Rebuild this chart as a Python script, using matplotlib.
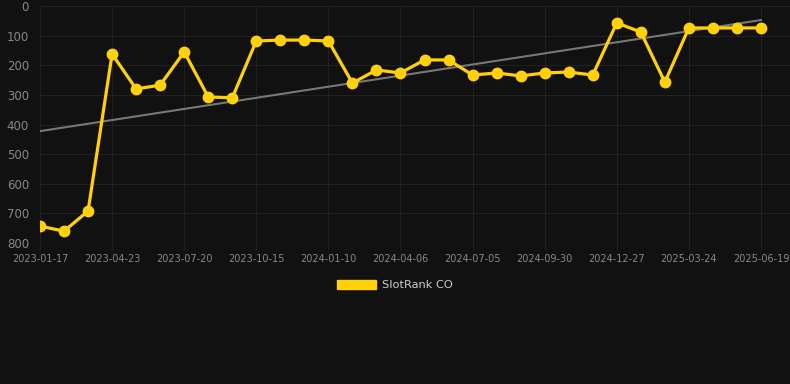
import matplotlib
matplotlib.use("Agg")
import matplotlib.pyplot as plt
import matplotlib.patches as mpatches
import numpy as np

dates = ["2023-01-17", "2023-02-18", "2023-03-22", "2023-04-23", "2023-05-22", "2023-06-20",
         "2023-07-20", "2023-08-18", "2023-09-16", "2023-10-15", "2023-11-13", "2023-12-12",
         "2024-01-10", "2024-02-08", "2024-03-08", "2024-04-06", "2024-05-06", "2024-06-05",
         "2024-07-05", "2024-08-03", "2024-09-01", "2024-09-30", "2024-10-29", "2024-11-28",
         "2024-12-27", "2025-01-25", "2025-02-23", "2025-03-24", "2025-04-22", "2025-05-21",
         "2025-06-19"]
ranks = [743, 760, 692, 162, 280, 267, 155, 307, 310, 118, 115, 115, 118, 260, 216, 226,
         182, 182, 233, 226, 236, 226, 223, 233, 57, 88, 257, 74, 74, 74, 74]
series_name = "SlotRank CO"

bg = "#111111"
fig = plt.figure(figsize=(7.9, 3.84), dpi=100, facecolor=bg)
ax = fig.add_axes([40/790, 1-243/384, 750/790, 237/384], facecolor=bg)

x = np.arange(len(dates))
y = np.array(ranks, dtype=float)
slope, intercept = np.polyfit(x, y, 1)
ax.plot(x, slope*x + intercept, color="#777777", lw=1.5, zorder=2)
ax.plot(x, y, color="#FFD10A", lw=2.3, marker="o", ms=7.5, zorder=3)

ax.set_ylim(800, 0)
ax.set_yticks(range(0, 801, 100))
ax.set_xlim(0, 30 + 29/24)
ticks = list(range(0, len(dates), 3))
ax.set_xticks(ticks)
ax.set_xticklabels([dates[i] for i in ticks])
ax.grid(True, color="#202020", lw=0.8)
ax.set_axisbelow(True)
for s in ax.spines.values():
    s.set_visible(False)
ax.tick_params(axis="y", colors="#202020", labelcolor="#888888", labelsize=8.5, length=0, pad=8)
ax.tick_params(axis="x", colors="#202020", labelcolor="#888888", labelsize=7, length=5, pad=3)

handle = mpatches.Patch(color="#FFD10A", label=series_name)
fig.legend(handles=[handle], loc="center", bbox_to_anchor=(0.5, 1-285/384), frameon=False,
           labelcolor="#cccccc", fontsize=8.2, handlelength=3.4, handleheight=0.95,
           handletextpad=0.5)

fig.savefig("out.png", dpi=100, facecolor=bg)
